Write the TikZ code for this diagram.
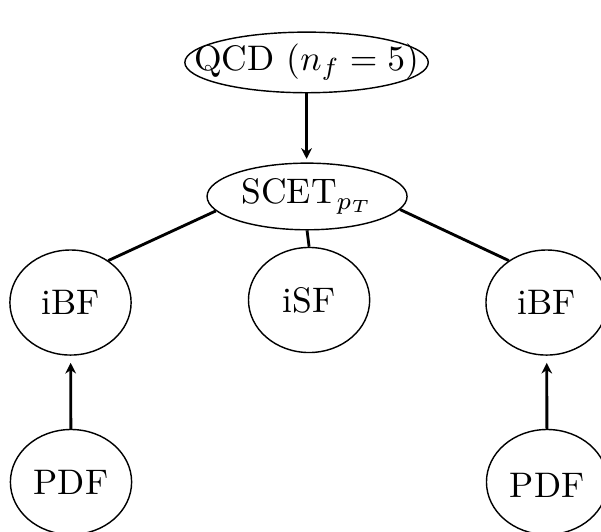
\documentclass[tikz,border=0pt]{standalone}
\usepackage{amsmath}
\usepackage{tikz}
\usetikzlibrary{shapes.geometric,arrows.meta}

\begin{document}
\begin{tikzpicture}[every node/.style={inner sep=0pt}]
        \useasboundingbox (0,0) rectangle (5.95,5.257);
        \tikzset{fn/.style={ellipse,draw,minimum width=1.2cm,minimum height=1.04cm},
                 eft/.style={ellipse,draw},
                 lnk/.style={thick},
                 flow/.style={thick,-{Stealth[length=3pt,width=3pt]}}}

        \node[eft,minimum width=2.41cm,minimum height=0.6cm] (qcd) at (3.035,4.639) {\makebox[0pt]{QCD ($n_f=5$)}};
        \node[eft,minimum width=1.98cm,minimum height=0.66cm] (scet) at (3.04,3.312) {\makebox[0pt]{SCET$_{p_T}$}};
        \node[fn] (ibf1) at (0.698,2.262) {iBF};
        \node[fn] (isf) at (3.06,2.287) {iSF};
        \node[fn] (ibf2) at (5.411,2.262) {iBF};
        \node[fn] (pdf1) at (0.703,0.485) {PDF};
        \node[fn,text height=8.8pt] (pdf2) at (5.416,0.485) {PDF};

        \draw[flow] (qcd.south) -- ([yshift=1pt]qcd.south |- scet.north);
        \draw[lnk] (scet.189) -- (ibf1.48);
        \draw[lnk] (scet.south) -- (isf.north);
        \draw[lnk] (scet.352) -- (ibf2.132);
        \draw[flow,shorten >=2pt] (pdf1) -- (ibf1);
        \draw[flow,shorten >=2pt] (pdf2) -- (ibf2);
    \end{tikzpicture}
\end{document}
